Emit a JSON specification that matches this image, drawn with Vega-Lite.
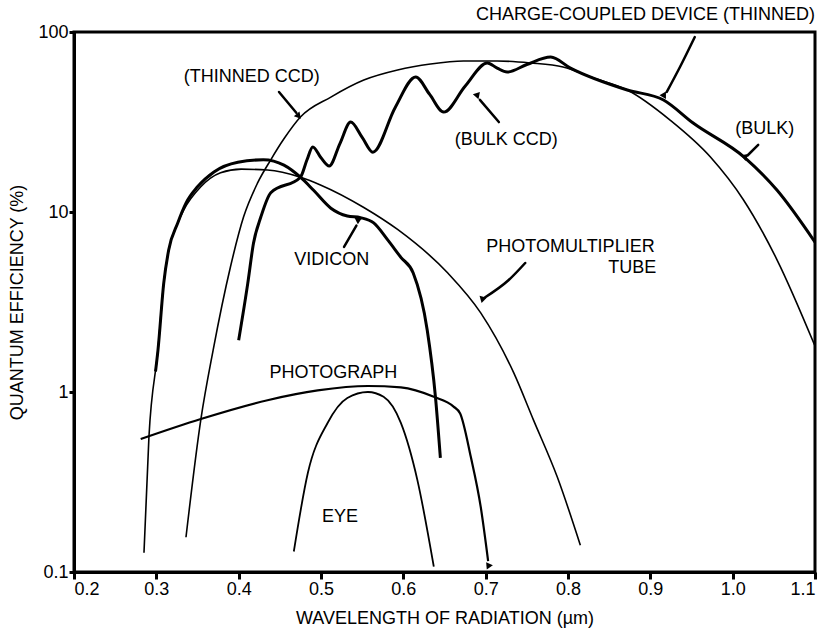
{
  "$schema": "https://vega.github.io/schema/vega-lite/v6.json",
  "width": 741,
  "height": 540,
  "autosize": {"type": "none"},
  "padding": {"left": 74, "top": 32, "right": 12, "bottom": 62},
  "background": "white",
  "config": {
    "font": "Liberation Sans",
    "view": {"stroke": "black", "strokeWidth": 3},
    "axis": {
      "grid": false,
      "domainColor": "black",
      "domainWidth": 3,
      "labelColor": "black",
      "labelFont": "Liberation Sans",
      "labelFontSize": 18,
      "titleColor": "black",
      "titleFont": "Liberation Sans",
      "titleFontSize": 18,
      "titleFontWeight": "normal"
    }
  },
  "datasets": {
    "curves": [
      {"series": "Photomultiplier tube", "x": 0.285, "y": 0.128},
      {"series": "Photomultiplier tube", "x": 0.291, "y": 0.56},
      {"series": "Photomultiplier tube", "x": 0.302, "y": 1.71},
      {"series": "Photomultiplier tube", "x": 0.309, "y": 4.03},
      {"series": "Photomultiplier tube", "x": 0.315, "y": 6.15},
      {"series": "Photomultiplier tube", "x": 0.326, "y": 8.69},
      {"series": "Photomultiplier tube", "x": 0.333, "y": 10.2},
      {"series": "Photomultiplier tube", "x": 0.354, "y": 13.8},
      {"series": "Photomultiplier tube", "x": 0.378, "y": 16.5},
      {"series": "Photomultiplier tube", "x": 0.403, "y": 17.3},
      {"series": "Photomultiplier tube", "x": 0.435, "y": 17.1},
      {"series": "Photomultiplier tube", "x": 0.475, "y": 15.6},
      {"series": "Photomultiplier tube", "x": 0.5, "y": 14.1},
      {"series": "Photomultiplier tube", "x": 0.552, "y": 10.6},
      {"series": "Photomultiplier tube", "x": 0.593, "y": 8.0},
      {"series": "Photomultiplier tube", "x": 0.654, "y": 4.58},
      {"series": "Photomultiplier tube", "x": 0.694, "y": 2.75},
      {"series": "Photomultiplier tube", "x": 0.734, "y": 1.28},
      {"series": "Photomultiplier tube", "x": 0.758, "y": 0.7},
      {"series": "Photomultiplier tube", "x": 0.787, "y": 0.337},
      {"series": "Photomultiplier tube", "x": 0.815, "y": 0.141},

      {"series": "Vidicon", "x": 0.299, "y": 1.3},
      {"series": "Vidicon", "x": 0.302, "y": 1.71},
      {"series": "Vidicon", "x": 0.309, "y": 4.03},
      {"series": "Vidicon", "x": 0.315, "y": 6.15},
      {"series": "Vidicon", "x": 0.326, "y": 8.69},
      {"series": "Vidicon", "x": 0.336, "y": 11.2},
      {"series": "Vidicon", "x": 0.35, "y": 13.8},
      {"series": "Vidicon", "x": 0.37, "y": 16.7},
      {"series": "Vidicon", "x": 0.399, "y": 18.9},
      {"series": "Vidicon", "x": 0.43, "y": 19.5},
      {"series": "Vidicon", "x": 0.455, "y": 18.2},
      {"series": "Vidicon", "x": 0.475, "y": 15.6},
      {"series": "Vidicon", "x": 0.491, "y": 13.2},
      {"series": "Vidicon", "x": 0.512, "y": 10.5},
      {"series": "Vidicon", "x": 0.532, "y": 9.5},
      {"series": "Vidicon", "x": 0.548, "y": 9.3},
      {"series": "Vidicon", "x": 0.564, "y": 8.7},
      {"series": "Vidicon", "x": 0.581, "y": 7.0},
      {"series": "Vidicon", "x": 0.597, "y": 5.6},
      {"series": "Vidicon", "x": 0.612, "y": 4.58},
      {"series": "Vidicon", "x": 0.629, "y": 2.21},
      {"series": "Vidicon", "x": 0.639, "y": 0.94},
      {"series": "Vidicon", "x": 0.645, "y": 0.43},

      {"series": "Thinned CCD", "x": 0.336, "y": 0.156},
      {"series": "Thinned CCD", "x": 0.354, "y": 0.7},
      {"series": "Thinned CCD", "x": 0.369, "y": 1.71},
      {"series": "Thinned CCD", "x": 0.39, "y": 4.95},
      {"series": "Thinned CCD", "x": 0.406, "y": 9.4},
      {"series": "Thinned CCD", "x": 0.423, "y": 14.5},
      {"series": "Thinned CCD", "x": 0.439, "y": 19.5},
      {"series": "Thinned CCD", "x": 0.455, "y": 25.5},
      {"series": "Thinned CCD", "x": 0.475, "y": 33.7},
      {"series": "Thinned CCD", "x": 0.512, "y": 43.5},
      {"series": "Thinned CCD", "x": 0.552, "y": 54.1},
      {"series": "Thinned CCD", "x": 0.593, "y": 61.5},
      {"series": "Thinned CCD", "x": 0.633, "y": 66.4},
      {"series": "Thinned CCD", "x": 0.673, "y": 69.0},
      {"series": "Thinned CCD", "x": 0.714, "y": 69.0},
      {"series": "Thinned CCD", "x": 0.754, "y": 67.3},
      {"series": "Thinned CCD", "x": 0.794, "y": 63.9},
      {"series": "Thinned CCD", "x": 0.831, "y": 55.5},
      {"series": "Thinned CCD", "x": 0.872, "y": 47.6},
      {"series": "Thinned CCD", "x": 0.924, "y": 32.4},
      {"series": "Thinned CCD", "x": 0.973, "y": 20.2},
      {"series": "Thinned CCD", "x": 1.013, "y": 11.7},
      {"series": "Thinned CCD", "x": 1.054, "y": 5.41},
      {"series": "Thinned CCD", "x": 1.1, "y": 1.8},

      {"series": "Bulk CCD", "x": 0.4, "y": 1.94},
      {"series": "Bulk CCD", "x": 0.411, "y": 4.0},
      {"series": "Bulk CCD", "x": 0.418, "y": 6.7},
      {"series": "Bulk CCD", "x": 0.427, "y": 9.4},
      {"series": "Bulk CCD", "x": 0.439, "y": 12.8},
      {"series": "Bulk CCD", "x": 0.475, "y": 15.6},
      {"series": "Bulk CCD", "x": 0.483, "y": 19.5},
      {"series": "Bulk CCD", "x": 0.49, "y": 23.0},
      {"series": "Bulk CCD", "x": 0.5, "y": 20.0},
      {"series": "Bulk CCD", "x": 0.51, "y": 18.0},
      {"series": "Bulk CCD", "x": 0.523, "y": 24.0},
      {"series": "Bulk CCD", "x": 0.536, "y": 31.6},
      {"series": "Bulk CCD", "x": 0.55, "y": 26.0},
      {"series": "Bulk CCD", "x": 0.563, "y": 21.5},
      {"series": "Bulk CCD", "x": 0.59, "y": 38.0},
      {"series": "Bulk CCD", "x": 0.615, "y": 56.2},
      {"series": "Bulk CCD", "x": 0.632, "y": 45.0},
      {"series": "Bulk CCD", "x": 0.649, "y": 35.9},
      {"series": "Bulk CCD", "x": 0.675, "y": 50.0},
      {"series": "Bulk CCD", "x": 0.702, "y": 67.3},
      {"series": "Bulk CCD", "x": 0.714, "y": 63.0},
      {"series": "Bulk CCD", "x": 0.726, "y": 59.9},
      {"series": "Bulk CCD", "x": 0.75, "y": 66.0},
      {"series": "Bulk CCD", "x": 0.779, "y": 72.6},
      {"series": "Bulk CCD", "x": 0.803, "y": 63.0},
      {"series": "Bulk CCD", "x": 0.872, "y": 47.6},
      {"series": "Bulk CCD", "x": 0.916, "y": 41.9},
      {"series": "Bulk CCD", "x": 0.952, "y": 31.2},
      {"series": "Bulk CCD", "x": 1.015, "y": 20.0},
      {"series": "Bulk CCD", "x": 1.054, "y": 13.2},
      {"series": "Bulk CCD", "x": 1.1, "y": 6.8},

      {"series": "Photograph", "x": 0.281, "y": 0.548},
      {"series": "Photograph", "x": 0.354, "y": 0.708},
      {"series": "Photograph", "x": 0.435, "y": 0.9},
      {"series": "Photograph", "x": 0.496, "y": 1.02},
      {"series": "Photograph", "x": 0.557, "y": 1.08},
      {"series": "Photograph", "x": 0.597, "y": 1.06},
      {"series": "Photograph", "x": 0.637, "y": 0.94},
      {"series": "Photograph", "x": 0.661, "y": 0.83},
      {"series": "Photograph", "x": 0.669, "y": 0.76},
      {"series": "Photograph", "x": 0.682, "y": 0.435},
      {"series": "Photograph", "x": 0.694, "y": 0.23},
      {"series": "Photograph", "x": 0.703, "y": 0.115},

      {"series": "Eye", "x": 0.467, "y": 0.13},
      {"series": "Eye", "x": 0.484, "y": 0.355},
      {"series": "Eye", "x": 0.508, "y": 0.673},
      {"series": "Eye", "x": 0.532, "y": 0.927},
      {"series": "Eye", "x": 0.557, "y": 1.0},
      {"series": "Eye", "x": 0.576, "y": 0.94},
      {"series": "Eye", "x": 0.597, "y": 0.673},
      {"series": "Eye", "x": 0.617, "y": 0.325},
      {"series": "Eye", "x": 0.637, "y": 0.107}
    ],
    "arrows": [
      {"id": "thinned", "k": 0, "x": 0.449, "y": 46.4},
      {"id": "thinned", "k": 1, "x": 0.47, "y": 35.6},
      {"id": "ccd", "k": 0, "x": 0.954, "y": 93.8},
      {"id": "ccd", "k": 1, "x": 0.936, "y": 63.9},
      {"id": "ccd", "k": 2, "x": 0.92, "y": 46.5},
      {"id": "bulkccd", "k": 0, "x": 0.716, "y": 31.6},
      {"id": "bulkccd", "k": 1, "x": 0.693, "y": 42.0},
      {"id": "bulk", "k": 0, "x": 1.031, "y": 23.6},
      {"id": "bulk", "k": 1, "x": 1.018, "y": 20.6},
      {"id": "vidicon", "k": 0, "x": 0.528, "y": 6.4},
      {"id": "vidicon", "k": 1, "x": 0.543, "y": 8.4},
      {"id": "pmt", "k": 0, "x": 0.748, "y": 5.21},
      {"id": "pmt", "k": 1, "x": 0.728, "y": 4.19},
      {"id": "pmt", "k": 2, "x": 0.699, "y": 3.35}
    ],
    "heads": [
      {"id": "thinned", "x": 0.473, "y": 34.0},
      {"id": "ccd", "x": 0.917, "y": 44.0},
      {"id": "bulkccd", "x": 0.69, "y": 44.0},
      {"id": "bulk", "x": 1.015, "y": 20.0},
      {"id": "vidicon", "x": 0.545, "y": 8.9},
      {"id": "pmt", "x": 0.696, "y": 3.25},
      {"id": "photo", "x": 0.703, "y": 0.107}
    ],
    "labels": [
      {"text": "(THINNED CCD)", "x": 0.416, "y": 56.2},
      {"text": "(BULK CCD)", "x": 0.725, "y": 25.1},
      {"text": "(BULK)", "x": 1.039, "y": 28.8},
      {"text": "VIDICON", "x": 0.513, "y": 5.41},
      {"text": "PHOTOMULTIPLIER", "x": 0.803, "y": 6.4},
      {"text": "TUBE", "x": 0.878, "y": 4.89},
      {"text": "PHOTOGRAPH", "x": 0.515, "y": 1.28},
      {"text": "EYE", "x": 0.523, "y": 0.202}
    ],
    "heading": [
      {"text": "CHARGE-COUPLED DEVICE (THINNED)", "x": 1.1, "y": 124}
    ]
  },
  "layer": [
    {
      "data": {"name": "curves"},
      "transform": [{"filter": "datum.series === 'Photomultiplier tube' || datum.series === 'Thinned CCD'"}],
      "mark": {"type": "line", "interpolate": "monotone", "color": "black", "strokeWidth": 1.6, "clip": true},
      "encoding": {
        "x": {
          "field": "x", "type": "quantitative",
          "scale": {"domain": [0.2, 1.1], "nice": false, "zero": false},
          "axis": {
            "orient": "bottom",
            "values": [0.2, 0.3, 0.4, 0.5, 0.6, 0.7, 0.8, 0.9, 1.0, 1.1],
            "format": ".1f",
            "ticks": true,
            "tickSize": 7,
            "tickColor": "black",
            "tickWidth": 3,
            "domainColor": "black",
            "domainWidth": 3,
            "labelPadding": 1,
            "title": "WAVELENGTH OF RADIATION (µm)",
            "titleY": 46,
            "titleBaseline": "middle"
          }
        },
        "y": {
          "field": "y", "type": "quantitative",
          "scale": {"type": "log", "domain": [0.1, 100], "nice": false},
          "axis": {
            "orient": "left",
            "values": [0.1, 1, 10, 100],
            "labelExpr": "format(datum.value, '~g')",
            "ticks": true,
            "tickSize": 5,
            "tickColor": "black",
            "tickWidth": 3,
            "domainColor": "black",
            "domainWidth": 3,
            "labelPadding": 1,
            "title": "QUANTUM EFFICIENCY (%)",
            "titleX": -57,
            "titleY": 270,
            "titleAngle": -90,
            "titleAlign": "center",
            "titleBaseline": "middle"
          }
        },
        "detail": {"field": "series", "type": "nominal"}
      }
    },
    {
      "data": {"name": "curves"},
      "transform": [{"filter": "datum.series === 'Vidicon' || datum.series === 'Bulk CCD'"}],
      "mark": {"type": "line", "interpolate": "monotone", "color": "black", "strokeWidth": 3, "clip": true},
      "encoding": {
        "x": {"field": "x", "type": "quantitative", "scale": {"domain": [0.2, 1.1], "nice": false, "zero": false}, "axis": null},
        "y": {"field": "y", "type": "quantitative", "scale": {"type": "log", "domain": [0.1, 100], "nice": false}, "axis": null},
        "detail": {"field": "series", "type": "nominal"}
      }
    },
    {
      "data": {"name": "curves"},
      "transform": [{"filter": "datum.series === 'Photograph'"}],
      "mark": {"type": "line", "interpolate": "monotone", "color": "black", "strokeWidth": 2.2, "clip": true},
      "encoding": {
        "x": {"field": "x", "type": "quantitative", "scale": {"domain": [0.2, 1.1], "nice": false, "zero": false}, "axis": null},
        "y": {"field": "y", "type": "quantitative", "scale": {"type": "log", "domain": [0.1, 100], "nice": false}, "axis": null}
      }
    },
    {
      "data": {"name": "curves"},
      "transform": [{"filter": "datum.series === 'Eye'"}],
      "mark": {"type": "line", "interpolate": "monotone", "color": "black", "strokeWidth": 1.8, "clip": true},
      "encoding": {
        "x": {"field": "x", "type": "quantitative", "scale": {"domain": [0.2, 1.1], "nice": false, "zero": false}, "axis": null},
        "y": {"field": "y", "type": "quantitative", "scale": {"type": "log", "domain": [0.1, 100], "nice": false}, "axis": null}
      }
    },
    {
      "data": {"name": "arrows"},
      "mark": {"type": "line", "interpolate": "monotone", "color": "black", "strokeWidth": 2.5, "strokeCap": "round"},
      "encoding": {
        "x": {"field": "x", "type": "quantitative", "scale": {"domain": [0.2, 1.1], "nice": false, "zero": false}, "axis": null},
        "y": {"field": "y", "type": "quantitative", "scale": {"type": "log", "domain": [0.1, 100], "nice": false}, "axis": null},
        "detail": {"field": "id", "type": "nominal"},
        "order": {"field": "k", "type": "quantitative"}
      }
    },
    {
      "data": {"name": "heads"},
      "mark": {"type": "point", "shape": "triangle-up", "filled": true, "color": "black", "opacity": 1, "size": 55},
      "encoding": {
        "x": {"field": "x", "type": "quantitative", "scale": {"domain": [0.2, 1.1], "nice": false, "zero": false}, "axis": null},
        "y": {"field": "y", "type": "quantitative", "scale": {"type": "log", "domain": [0.1, 100], "nice": false}, "axis": null},
        "angle": {
          "field": "id", "type": "nominal",
          "scale": {
            "domain": ["thinned", "ccd", "bulkccd", "bulk", "vidicon", "pmt", "photo"],
            "range": [139, 205, 320, 225, 29, 234, 180]
          },
          "legend": null
        }
      }
    },
    {
      "data": {"name": "labels"},
      "mark": {"type": "text", "font": "Liberation Sans", "fontSize": 18, "color": "black", "align": "center", "baseline": "middle"},
      "encoding": {
        "x": {"field": "x", "type": "quantitative", "scale": {"domain": [0.2, 1.1], "nice": false, "zero": false}, "axis": null},
        "y": {"field": "y", "type": "quantitative", "scale": {"type": "log", "domain": [0.1, 100], "nice": false}, "axis": null},
        "text": {"field": "text", "type": "nominal"}
      }
    },
    {
      "data": {"name": "heading"},
      "mark": {"type": "text", "font": "Liberation Sans", "fontSize": 18, "color": "black", "align": "right", "baseline": "middle", "clip": false},
      "encoding": {
        "x": {"field": "x", "type": "quantitative", "scale": {"domain": [0.2, 1.1], "nice": false, "zero": false}, "axis": null},
        "y": {"field": "y", "type": "quantitative", "scale": {"type": "log", "domain": [0.1, 100], "nice": false}, "axis": null},
        "text": {"field": "text", "type": "nominal"}
      }
    }
  ],
  "resolve": {"axis": {"x": "independent", "y": "independent"}}
}
